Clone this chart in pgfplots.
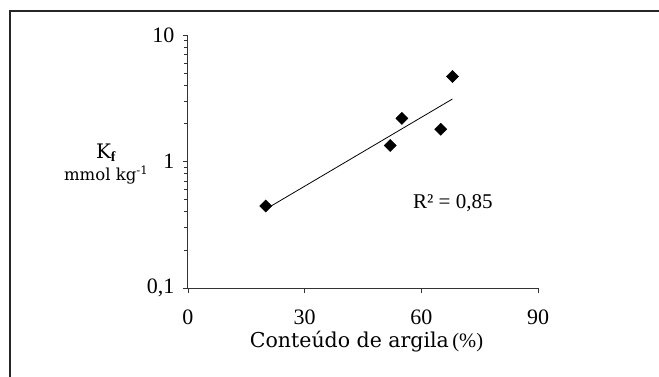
\documentclass[border=0pt]{standalone}
\usepackage{fontspec}
\setmainfont{Liberation Serif}
\newfontfamily\labelfont{DejaVu Serif}
\usepackage{pgfplots}
\pgfplotsset{compat=1.18}
\begin{document}
\begin{tikzpicture}[x=1pt,y=1pt]
\clip (0,0) rectangle (659,376);
\useasboundingbox (0,0) rectangle (659,376);
\fill[white] (0,0) rectangle (659,376);
\draw[line width=2.5pt, color=black!85] (10,-10) -- (10,365) -- (680,365);
\begin{axis}[
  at={(188pt,88pt)}, anchor=south west,
  scale only axis, width=350pt, height=253pt,
  ymode=log, xmin=0, xmax=90, ymin=0.1, ymax=10,
  axis x line*=bottom, axis y line*=left,
  axis line style={line width=1pt, color=black!80},
  tick align=outside, major tick length=5pt, minor tick length=4pt,
  every tick/.style={black!80, line width=0.8pt},
  xtick={0,30,60,90},
  ytick={0.1,1,10}, yticklabels={{0,1},1,10},
  /pgf/number format/assume math mode=true,
  tick label style={font=\fontsize{22}{24}\selectfont},
  xticklabel style={yshift=-13pt},
  yticklabel style={xshift=-5pt},
  xlabel={{\labelfont\fontsize{20.5}{24}\selectfont Conteúdo de argila}\,(\%)},
  xlabel style={at={(axis description cs:0.51,-0.213)}, anchor=center, font=\fontsize{20.5}{24}\selectfont},
  ylabel={{\labelfont\fontsize{20}{22}\selectfont K$_{\mathbf f}$}\\[3pt]{\labelfont\fontsize{16.5}{18}\selectfont mmol kg\textsuperscript{-1}}},
  ylabel style={at={(axis description cs:-0.234,0.49)}, rotate=-90, anchor=center, align=center},
  clip=false,
]
\addplot[black, line width=0.8pt] coordinates {(20,0.42) (68,3.12)};
\addplot[only marks, mark=square*, mark size=4.3pt, mark options={rotate=45, fill=black}] coordinates {
  (20,0.445) (52,1.34) (55,2.19) (65,1.80) (68,4.70)};
\node[font=\fontsize{21}{24}\selectfont] at (axis cs:68.1,0.47) {R² = 0,85};
\end{axis}
\end{tikzpicture}
\end{document}
